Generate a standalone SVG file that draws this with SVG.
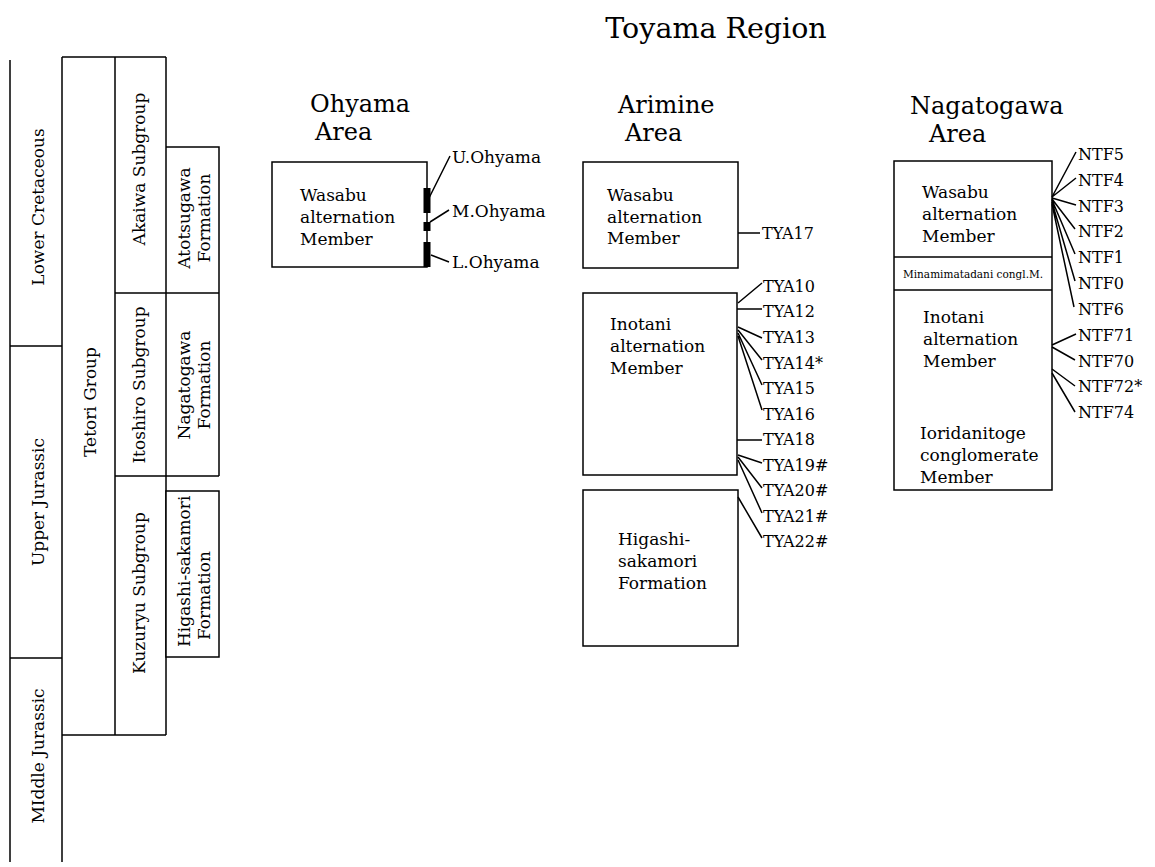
<svg xmlns="http://www.w3.org/2000/svg" width="1155" height="867" viewBox="0 0 1155 867">
<style>
text{font-family:"DejaVu Serif","Liberation Serif",serif;fill:#000}
.t{font-size:17px}
.h{font-size:24px}
.lb{font-size:16px}
.ol{font-size:17px}
.sm{font-size:10.5px}
.ttl{font-size:28.5px}
.bx{fill:#fff;stroke:#000;stroke-width:1.5}
.ln{stroke:#000;stroke-width:1.5;fill:none}
.bar{fill:#000}
</style>
<rect width="1155" height="867" fill="#fff"/>
<text class="ttl" x="716" y="38" text-anchor="middle">Toyama Region</text>

<g id="column">
<path class="ln" d="M10,60V862M62,57V862M10,346H62M10,658H62M62,57H166M115,57V735M166,57V735M62,735H166M115,293H219M115,476H219"/>
<path class="ln" d="M166,147H219V476"/>
<rect class="bx" x="166" y="491" width="53" height="166"/>
<text class="t" transform="translate(44,207) rotate(-90)" text-anchor="middle">Lower Cretaceous</text>
<text class="t" transform="translate(44,502) rotate(-90)" text-anchor="middle">Upper Jurassic</text>
<text class="t" transform="translate(44,756) rotate(-90)" text-anchor="middle">MIddle Jurassic</text>
<text class="t" transform="translate(96,402) rotate(-90)" text-anchor="middle">Tetori Group</text>
<text class="t" transform="translate(145,169) rotate(-90)" text-anchor="middle">Akaiwa Subgroup</text>
<text class="t" transform="translate(145,385) rotate(-90)" text-anchor="middle">Itoshiro Subgroup</text>
<text class="t" transform="translate(145,593) rotate(-90)" text-anchor="middle">Kuzuryu Subgroup</text>
<text class="t" transform="translate(190,218) rotate(-90)" text-anchor="middle">Atotsugawa</text>
<text class="t" transform="translate(210,218) rotate(-90)" text-anchor="middle">Formation</text>
<text class="t" transform="translate(190,385) rotate(-90)" text-anchor="middle">Nagatogawa</text>
<text class="t" transform="translate(210,385) rotate(-90)" text-anchor="middle">Formation</text>
<text class="t" transform="translate(190,647) rotate(-90)">Higashi-sakamori</text>
<text class="t" transform="translate(210,640) rotate(-90)">Formation</text>
</g>

<g id="ohyama">
<text class="h" x="310" y="112">Ohyama</text>
<text class="h" x="315" y="140">Area</text>
<rect class="bx" x="272" y="162" width="155" height="105"/>
<text class="t" x="300" y="201">Wasabu</text>
<text class="t" x="300" y="223">alternation</text>
<text class="t" x="300" y="245">Member</text>
<rect class="bar" x="423.5" y="188" width="7" height="25"/>
<rect class="bar" x="423.5" y="222" width="7" height="9"/>
<rect class="bar" x="423.5" y="242" width="7" height="25"/>
<text class="ol" x="452" y="163">U.Ohyama</text>
<text class="ol" x="452" y="217">M.Ohyama</text>
<text class="ol" x="452" y="268">L.Ohyama</text>
</g>

<g id="arimine">
<text class="h" x="618" y="113">Arimine</text>
<text class="h" x="625" y="141">Area</text>
<rect class="bx" x="583" y="162" width="155" height="106"/>
<text class="t" x="607" y="201">Wasabu</text>
<text class="t" x="607" y="223">alternation</text>
<text class="t" x="607" y="244">Member</text>
<rect class="bx" x="583" y="293" width="154" height="182"/>
<text class="t" x="610" y="330">Inotani</text>
<text class="t" x="610" y="352">alternation</text>
<text class="t" x="610" y="374">Member</text>
<rect class="bx" x="583" y="490" width="155" height="156"/>
<text class="t" x="618" y="545">Higashi-</text>
<text class="t" x="618" y="567">sakamori</text>
<text class="t" x="618" y="589">Formation</text>
<g class="lb">
<text x="762" y="239">TYA17</text>
<text x="763" y="292">TYA10</text>
<text x="763" y="317">TYA12</text>
<text x="763" y="343">TYA13</text>
<text x="763" y="369">TYA14*</text>
<text x="763" y="394">TYA15</text>
<text x="763" y="420">TYA16</text>
<text x="763" y="445">TYA18</text>
<text x="763" y="471">TYA19#</text>
<text x="763" y="496">TYA20#</text>
<text x="763" y="522">TYA21#</text>
<text x="763" y="547">TYA22#</text>
</g>
</g>

<g id="nagatogawa">
<text class="h" x="910" y="114">Nagatogawa</text>
<text class="h" x="929" y="142">Area</text>
<rect class="bx" x="894" y="161" width="158" height="329"/>
<path class="ln" d="M894,257H1052M894,290H1052"/>
<text class="t" x="922" y="198">Wasabu</text>
<text class="t" x="922" y="220">alternation</text>
<text class="t" x="922" y="242">Member</text>
<text class="sm" x="903" y="278">Minamimatadani congl.M.</text>
<text class="t" x="923" y="323">Inotani</text>
<text class="t" x="923" y="345">alternation</text>
<text class="t" x="923" y="367">Member</text>
<text class="t" x="920" y="439">Ioridanitoge</text>
<text class="t" x="920" y="461">conglomerate</text>
<text class="t" x="920" y="483">Member</text>
<g class="lb">
<text x="1078" y="160">NTF5</text>
<text x="1078" y="186">NTF4</text>
<text x="1078" y="212">NTF3</text>
<text x="1078" y="237">NTF2</text>
<text x="1078" y="263">NTF1</text>
<text x="1078" y="289">NTF0</text>
<text x="1078" y="315">NTF6</text>
<text x="1078" y="341">NTF71</text>
<text x="1078" y="367">NTF70</text>
<text x="1078" y="392">NTF72*</text>
<text x="1078" y="418">NTF74</text>
</g>
</g>

<g id="connectors" class="ln">
<path class="ln" d="M429,198L450,156M430,222L449,210M431,255L449,262"/>
<path class="ln" d="M738,233H760M738,303L762,283M737,309H762M738,327L762,338M738,330L762,360M738,333L762,385M738,336L762,410M737,440H762M738,455L762,463M738,457L762,488M738,460L762,513M738,497L762,538"/>
<path class="ln" d="M1052,197L1076,152M1052,197L1076,178M1052,198L1076,205M1052,199L1075,229M1052,200L1075,254M1052,202L1075,281M1052,204L1074,307M1052,345L1076,334M1052,347L1075,360M1052,369L1075,386M1052,373L1075,412"/>
</g>
</svg>
